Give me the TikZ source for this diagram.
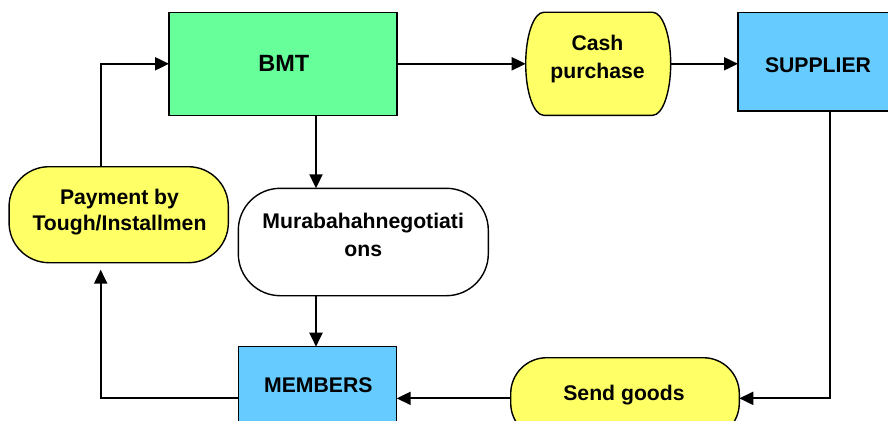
\documentclass[tikz,border=0pt]{standalone}
\usepackage{fontspec}
\setmainfont{Liberation Sans}
\usetikzlibrary{arrows.meta}
\definecolor{bmtgreen}{HTML}{66FF99}
\definecolor{boxyellow}{HTML}{FFFF66}
\definecolor{boxblue}{HTML}{66CCFF}
\begin{document}
\begin{tikzpicture}[x=1pt,y=-1pt,
  shapebox/.style={draw=black, line width=1.4pt, inner sep=0pt, outer sep=0pt},
  lbl/.style={inner sep=0pt, font=\bfseries\fontsize{21.2}{28}\selectfont, align=center},
  conn/.style={draw=black, line width=2pt, -{Triangle[length=14pt,width=13pt]}},
]
\useasboundingbox (0,0) rectangle (888,420);
\clip (0,0) rectangle (888,420);
\fill[white] (0,0) rectangle (888,420);

% shapes
\node[shapebox, fill=bmtgreen, minimum width=228pt, minimum height=103pt] (bmt) at (283,63.8) {};
\node[inner sep=0pt, outer sep=0pt, minimum width=145pt, minimum height=103pt] (cp) at (598.2,63.8) {};
\draw[fill=boxyellow, line width=1.4pt]
  ([xshift=18pt]cp.north west) -- ([xshift=-18pt]cp.north east)
  arc[start angle=90, end angle=-90, x radius=18pt, y radius=51.5pt]
  -- ([xshift=18pt]cp.south west)
  arc[start angle=270, end angle=90, x radius=18pt, y radius=51.5pt] -- cycle;
\node[shapebox, fill=boxblue, minimum width=184pt, minimum height=98.7pt] (sup) at (830,61.65) {};
\node[shapebox, fill=boxyellow, rounded corners=40pt, minimum width=219.3pt, minimum height=96pt] (pay) at (118.7,214.7) {};
\node[shapebox, fill=white, rounded corners=42pt, minimum width=250pt, minimum height=107.4pt] (mur) at (363.3,242) {};
\node[shapebox, fill=boxblue, minimum width=158.4pt, minimum height=103.3pt] (mem) at (317.5,398.35) {};
\node[shapebox, fill=boxyellow, rounded corners=36pt, minimum width=228.6pt, minimum height=81.3pt] (send) at (625,398.35) {};
\coordinate (vx) at (316,0);

% connectors
\draw[conn] ([xshift=-18pt]pay.north) |- (bmt.west);
\draw[conn] (bmt.east) -- (cp.west);
\draw[conn] (cp.east) -- (cp.east -| sup.west);
\draw[conn] (bmt.south -| vx) -- (mur.north -| vx);
\draw[conn] (mur.south -| vx) -- (mem.north -| vx);
\draw[conn] (sup.south) |- (send.east);
\draw[conn] (send.west) -- (mem.east);
\draw[conn, shorten >=7pt] (mem.west) -| ([xshift=-18pt]pay.south);

% labels
\node[lbl, font=\bfseries\fontsize{23.5}{28}\selectfont] (bmtt) at (283.8,63.3) {BMT};
\node[lbl] (cpt) at (597.5,59.5) {Cash\\purchase};
\node[lbl] (supt) at (818,65.3) {SUPPLIER};
\node[lbl, font=\bfseries\fontsize{21.2}{26.7}\selectfont] (payt) at (119.5,212.2) {Payment by\\Tough/Installmen};
\node[lbl] (murt) at (363.2,234.5) {Murabahahnegotiati\\ons};
\node[lbl] (memt) at (318.3,385.3) {MEMBERS};
\node[lbl] (sendt) at (624,395.5) {Send goods};
\end{tikzpicture}
\end{document}
